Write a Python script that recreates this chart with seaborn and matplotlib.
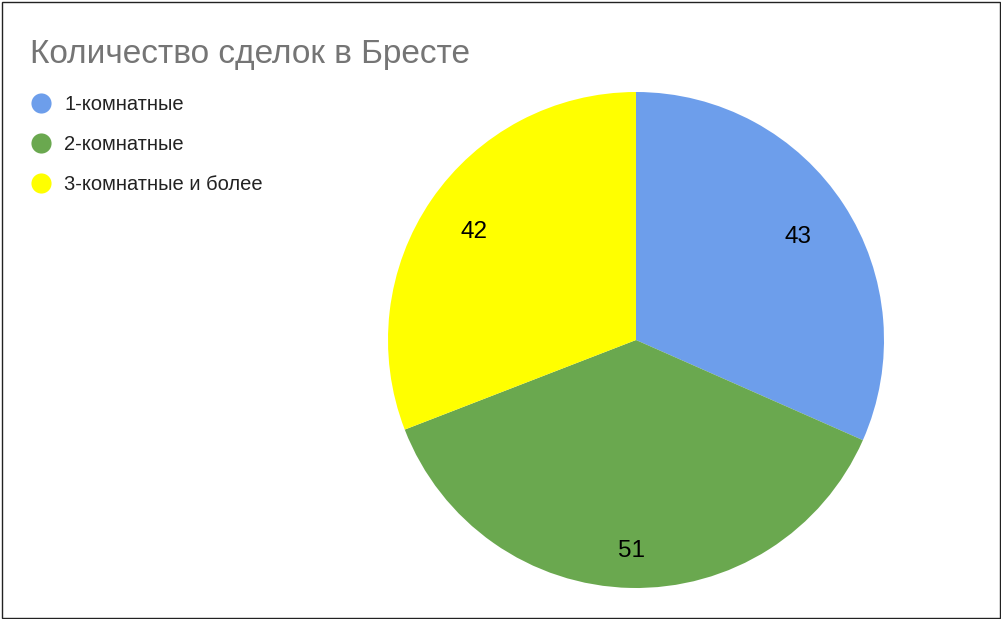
import matplotlib
matplotlib.use('Agg')
import matplotlib.pyplot as plt
import seaborn as sns
from matplotlib.lines import Line2D
from matplotlib.patches import Rectangle

# данные
categories = ['1-комнатные', '2-комнатные', '3-комнатные и более']
deals = [43, 51, 42]
colors = ['#6d9eeb', '#6aa84f', '#ffff00']
title = 'Количество сделок в Бресте'

# расстояние подписей от центра (доля радиуса)
label_dist = [0.78, 0.84, 0.79]

sns.set_theme(style='white')
plt.rcParams['font.family'] = ['Liberation Sans', 'DejaVu Sans']

W, H = 1001, 619
fig = plt.figure(figsize=(W / 100, H / 100), dpi=100)

# круг: центр (636, 340), радиус 248 px
cx, cy, r = 636, 340, 248
ax = fig.add_axes([(cx - r) / W, (H - cy - r) / H, 2 * r / W, 2 * r / H])
palette = sns.color_palette(colors)
wedges, texts, autotexts = ax.pie(
    deals, colors=palette, startangle=90, counterclock=False,
    autopct=lambda p: f'{round(p * sum(deals) / 100)}', pctdistance=1.0,
    wedgeprops=dict(linewidth=0), textprops=dict(fontsize=17.5, color='black'))
for t, d in zip(autotexts, label_dist):
    x, y = t.get_position()
    t.set_position((x * d, y * d))
    t.set_va('center_baseline')
ax.set_xlim(-1, 1)
ax.set_ylim(-1, 1)

fig.text(30 / W, 1 - 63 / H, title, fontsize=24, color='#757575', va='baseline')

handles = [Line2D([], [], marker='o', linestyle='none', markersize=14.5,
                  markerfacecolor=c, markeredgewidth=0) for c in colors]
fig.legend(handles, categories, loc='upper left', bbox_to_anchor=(29 / W, 1 - 95 / H),
           frameon=False, fontsize=14.5, labelspacing=1.04, handletextpad=0.55,
           handlelength=1.2, borderaxespad=0, borderpad=0, labelcolor='#222222')

fig.add_artist(Rectangle((1.5 / W, 1.5 / H), 1 - 3 / W, 1 - 3 / H, transform=fig.transFigure,
                         fill=False, edgecolor='#222222', linewidth=1))

fig.savefig('out.png', dpi=100)
